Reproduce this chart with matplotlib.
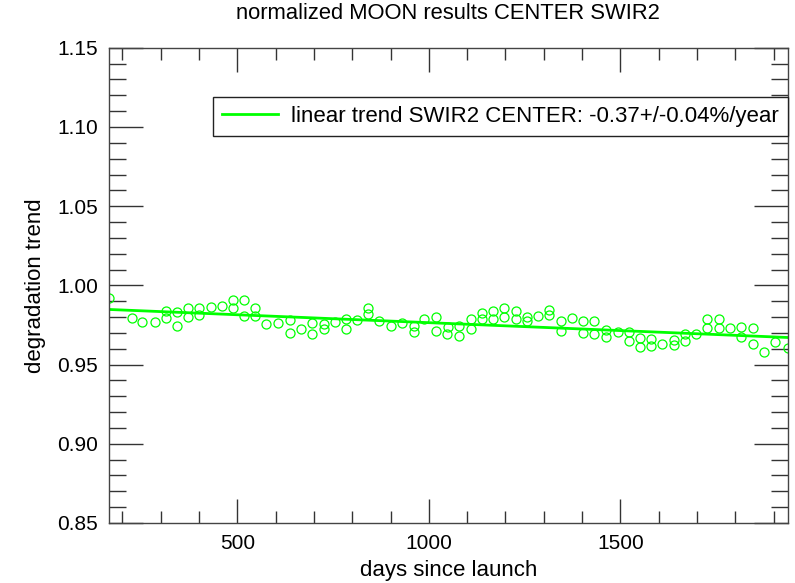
import numpy as np
import matplotlib
matplotlib.use('Agg')
import matplotlib.pyplot as plt
from matplotlib.ticker import MultipleLocator

plt.rcParams['font.family'] = ['Liberation Sans', 'DejaVu Sans']

# lunar observations: days since launch and normalized signal
days = [165, 225, 252, 284, 313, 313, 343, 343, 372, 372, 401, 401, 431, 460,
        489, 489, 517, 517, 546, 546, 576, 607, 638, 638, 667, 696, 696, 726,
        726, 755, 785, 785, 813, 842, 842, 871, 902, 930, 961, 961, 988, 1019,
        1019, 1048, 1050, 1080, 1080, 1110, 1110, 1139, 1139, 1167, 1167, 1197,
        1197, 1227, 1227, 1256, 1256, 1285, 1314, 1314, 1344, 1344, 1373, 1403,
        1403, 1431, 1431, 1462, 1462, 1493, 1523, 1523, 1551, 1551, 1580, 1580,
        1609, 1640, 1640, 1668, 1668, 1698, 1727, 1727, 1757, 1757, 1787, 1816,
        1816, 1845, 1845, 1874, 1904, 1937]
moon = [0.9923, 0.9795, 0.9767, 0.9771, 0.9839, 0.9793, 0.9835, 0.9742, 0.9860,
        0.9801, 0.9860, 0.9812, 0.9864, 0.9868, 0.9906, 0.9856, 0.9906, 0.9809,
        0.9856, 0.9809, 0.9759, 0.9765, 0.9782, 0.9702, 0.9723, 0.9765, 0.9696,
        0.9755, 0.9723, 0.9771, 0.9788, 0.9723, 0.9780, 0.9860, 0.9818, 0.9778,
        0.9746, 0.9765, 0.9746, 0.9704, 0.9788, 0.9801, 0.9715, 0.9696, 0.9740,
        0.9746, 0.9683, 0.9786, 0.9723, 0.9826, 0.9786, 0.9839, 0.9788, 0.9856,
        0.9801, 0.9839, 0.9788, 0.9799, 0.9776, 0.9809, 0.9843, 0.9811, 0.9778,
        0.9713, 0.9793, 0.9776, 0.9702, 0.9776, 0.9696, 0.9719, 0.9675, 0.9706,
        0.9706, 0.9651, 0.9666, 0.9613, 0.9660, 0.9620, 0.9632, 0.9656, 0.9624,
        0.9692, 0.9649, 0.9692, 0.9788, 0.9733, 0.9785, 0.9733, 0.9730, 0.9740,
        0.9671, 0.9730, 0.9629, 0.9582, 0.9641, 0.9607]

trend = -0.37      # %/year
trend_err = 0.04   # %/year

d = np.array(days, dtype=float)
m = np.array(moon)
rate = 1 + trend / 100.0 * d / 365.25
a = np.sum(m * rate) / np.sum(rate * rate)   # fixed-slope fit for the level
fit = a * rate

fig = plt.figure(figsize=(7.95, 5.83), dpi=100)
ax = fig.add_axes([0.137, 0.103, 0.854, 0.815])

ax.plot(d, fit, color='#00ff00', lw=2,
        label='linear trend SWIR2 CENTER: %.2f+/-%.2f%%/year' % (trend, trend_err))
ax.plot(d, m, 'o', mfc='none', mec='#00ff00', ms=6.5, mew=0.9)

ax.set_xlim(d.min(), d.max())
ax.set_ylim(0.85, 1.15)
ax.xaxis.set_major_locator(MultipleLocator(500))
ax.xaxis.set_minor_locator(MultipleLocator(100))
ax.yaxis.set_major_locator(MultipleLocator(0.05))
ax.yaxis.set_minor_locator(MultipleLocator(0.01))
ax.yaxis.set_major_formatter(plt.FormatStrFormatter('%.2f'))

ax.tick_params(axis='both', which='both', direction='in', top=True, right=True,
               color='#333333', width=1, labelsize=15, pad=8)
ax.tick_params(axis='x', which='major', length=17)
ax.tick_params(axis='x', which='minor', length=8.5)
ax.tick_params(axis='y', which='major', length=24.5)
ax.tick_params(axis='y', which='minor', length=12)
for s in ax.spines.values():
    s.set_color('#444444')
    s.set_linewidth(1)

ax.set_xlabel('days since launch', fontsize=16, labelpad=5)
ax.set_ylabel('degradation trend', fontsize=16, labelpad=8)
ax.set_title('normalized MOON results CENTER SWIR2', fontsize=15.8, pad=21)

leg = ax.legend(loc='upper right', bbox_to_anchor=(1.0, 0.897), borderaxespad=0,
                fontsize=16, fancybox=False, framealpha=1, handlelength=2.5,
                handletextpad=0.6, borderpad=0.4)
leg.get_frame().set_edgecolor('#222222')
leg.get_frame().set_linewidth(1)

plt.savefig('out.png', dpi=100)
